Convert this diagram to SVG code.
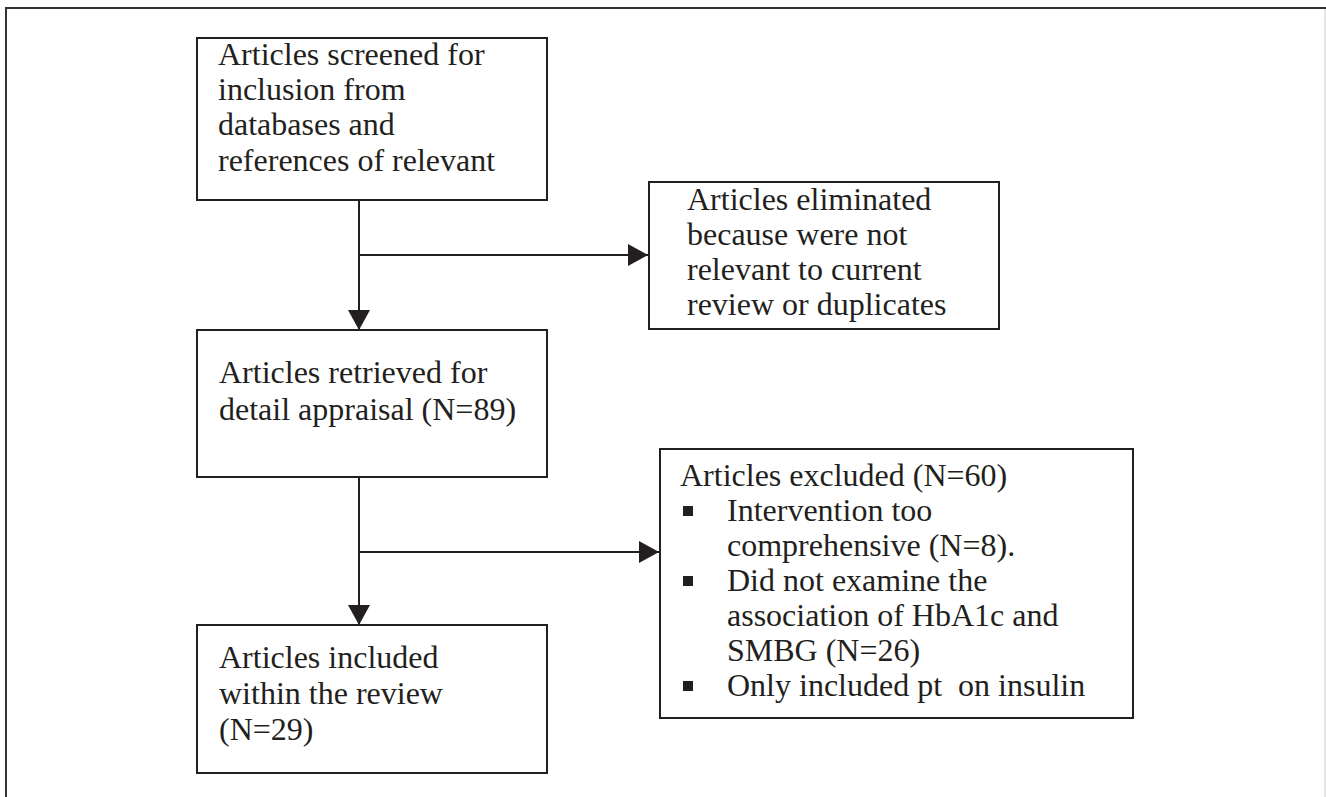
<svg xmlns="http://www.w3.org/2000/svg" width="1326" height="797" viewBox="0 0 1326 797">
<defs>
<style>
.box{fill:#fff;stroke:#231f20;stroke-width:2}
.t{font-family:"Liberation Serif","Times New Roman",serif;font-size:32px;fill:#231f20}
.ln{stroke:#231f20;stroke-width:2;fill:none}
.bul{fill:#231f20}
</style>
<marker id="ah" markerWidth="20" markerHeight="22" refX="20" refY="11" orient="auto" markerUnits="userSpaceOnUse">
<path d="M0,0 L20,11 L0,22 Z" fill="#231f20"/>
</marker>
</defs>
<rect x="0" y="0" width="1326" height="797" fill="#fff"/>
<g id="frame">
<line x1="5" y1="8" x2="1326" y2="8" stroke="#333" stroke-width="2"/>
<line x1="6" y1="7" x2="6" y2="797" stroke="#333" stroke-width="2"/>
<line x1="1325" y1="9" x2="1325" y2="797" stroke="#ccc" stroke-width="1"/>
</g>
<g id="connectors">
<line class="ln" x1="359" y1="200" x2="359" y2="330" marker-end="url(#ah)"/>
<line class="ln" x1="359" y1="255" x2="648" y2="255" marker-end="url(#ah)"/>
<line class="ln" x1="359" y1="477" x2="359" y2="625" marker-end="url(#ah)"/>
<line class="ln" x1="359" y1="552" x2="659" y2="552" marker-end="url(#ah)"/>
</g>
<g id="n1">
<rect class="box" x="197" y="38" width="350" height="162"/>
<text class="t" x="218" y="65">Articles screened for</text>
<text class="t" x="218" y="100">inclusion from</text>
<text class="t" x="218" y="135">databases and</text>
<text class="t" x="218" y="171">references of relevant</text>
</g>
<g id="n2">
<rect class="box" x="649" y="182" width="350" height="147"/>
<text class="t" x="687" y="210">Articles eliminated</text>
<text class="t" x="687" y="245">because were not</text>
<text class="t" x="687" y="280">relevant to current</text>
<text class="t" x="687" y="315">review or duplicates</text>
</g>
<g id="n3">
<rect class="box" x="197" y="330" width="350" height="147"/>
<text class="t" x="219" y="383">Articles retrieved for</text>
<text class="t" x="219" y="420">detail appraisal (N=89)</text>
</g>
<g id="n4">
<rect class="box" x="660" y="449" width="473" height="269"/>
<text class="t" x="680" y="486">Articles excluded (N=60)</text>
<rect class="bul" x="683" y="506" width="10" height="10"/>
<text class="t" x="727" y="521">Intervention too</text>
<text class="t" x="727" y="556">comprehensive (N=8).</text>
<rect class="bul" x="683" y="576" width="10" height="10"/>
<text class="t" x="727" y="591">Did not examine the</text>
<text class="t" x="727" y="626">association of HbA1c and</text>
<text class="t" x="727" y="661">SMBG (N=26)</text>
<rect class="bul" x="683" y="681" width="10" height="10"/>
<text class="t" x="727" y="696" xml:space="preserve">Only included pt  on insulin</text>
</g>
<g id="n5">
<rect class="box" x="197" y="625" width="350" height="148"/>
<text class="t" x="219" y="668">Articles included</text>
<text class="t" x="219" y="704">within the review</text>
<text class="t" x="219" y="740">(N=29)</text>
</g>
</svg>
